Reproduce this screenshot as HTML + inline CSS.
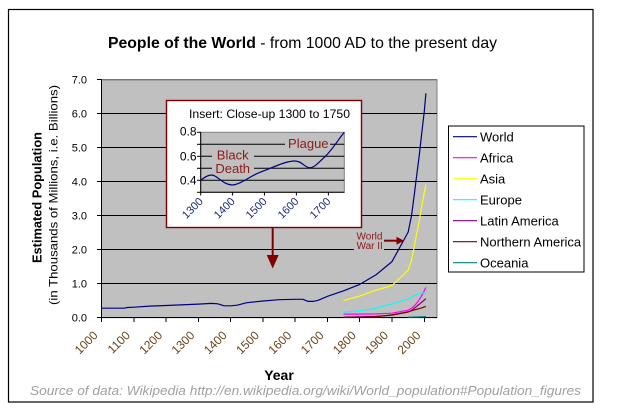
<!DOCTYPE html>
<html>
<head>
<meta charset="utf-8">
<style>
  html,body{margin:0;padding:0;background:#fff;}
  svg{display:block;}
  text{font-family:"Liberation Sans",Arial,sans-serif;}
</style>
</head>
<body>
<svg width="620" height="412" viewBox="0 0 620 412" xmlns="http://www.w3.org/2000/svg">
  <rect x="0" y="0" width="620" height="412" fill="#fff"/>
  <!-- outer frame -->
  <rect x="8.5" y="9.5" width="584.5" height="392.5" fill="#fff" stroke="#000" stroke-width="1.2"/>

  <!-- title -->
  <text x="108" y="48" font-size="15.7" fill="#000" textLength="389" lengthAdjust="spacingAndGlyphs"><tspan font-weight="bold">People of the World</tspan> - from 1000 AD to the present day</text>

  <!-- plot area -->
  <rect x="101.5" y="79.7" width="335.5" height="238" fill="#C0C0C0" stroke="#808080" stroke-width="1"/>
  <g stroke="#000" stroke-width="1" shape-rendering="crispEdges">
    <line x1="101.5" y1="283.7" x2="437" y2="283.7"/>
    <line x1="101.5" y1="249.7" x2="437" y2="249.7"/>
    <line x1="101.5" y1="215.7" x2="437" y2="215.7"/>
    <line x1="101.5" y1="181.7" x2="437" y2="181.7"/>
    <line x1="101.5" y1="147.7" x2="437" y2="147.7"/>
    <line x1="101.5" y1="113.7" x2="437" y2="113.7"/>
  </g>
  <line x1="101.5" y1="79.7" x2="437" y2="79.7" stroke="#606060" stroke-width="1"/>

  <!-- axes -->
  <g stroke="#000" stroke-width="1" shape-rendering="crispEdges">
    <line x1="101.5" y1="79.7" x2="101.5" y2="317.7"/>
    <line x1="101.5" y1="317.7" x2="437" y2="317.7"/>
    <line x1="97" y1="79.7" x2="101.5" y2="79.7"/>
    <line x1="97" y1="113.7" x2="101.5" y2="113.7"/>
    <line x1="97" y1="147.7" x2="101.5" y2="147.7"/>
    <line x1="97" y1="181.7" x2="101.5" y2="181.7"/>
    <line x1="97" y1="215.7" x2="101.5" y2="215.7"/>
    <line x1="97" y1="249.7" x2="101.5" y2="249.7"/>
    <line x1="97" y1="283.7" x2="101.5" y2="283.7"/>
    <line x1="97" y1="317.7" x2="101.5" y2="317.7"/>
    <line x1="101.5" y1="317.7" x2="101.5" y2="322"/>
    <line x1="133.8" y1="317.7" x2="133.8" y2="322"/>
    <line x1="166.1" y1="317.7" x2="166.1" y2="322"/>
    <line x1="198.3" y1="317.7" x2="198.3" y2="322"/>
    <line x1="230.6" y1="317.7" x2="230.6" y2="322"/>
    <line x1="262.9" y1="317.7" x2="262.9" y2="322"/>
    <line x1="295.2" y1="317.7" x2="295.2" y2="322"/>
    <line x1="327.5" y1="317.7" x2="327.5" y2="322"/>
    <line x1="359.7" y1="317.7" x2="359.7" y2="322"/>
    <line x1="392.0" y1="317.7" x2="392.0" y2="322"/>
    <line x1="424.3" y1="317.7" x2="424.3" y2="322"/>
  </g>

  <!-- y tick labels -->
  <g font-size="11" text-anchor="end" fill="#000">
    <text x="87" y="83.7">7.0</text>
    <text x="87" y="117.7">6.0</text>
    <text x="87" y="151.7">5.0</text>
    <text x="87" y="185.7">4.0</text>
    <text x="87" y="219.7">3.0</text>
    <text x="87" y="253.7">2.0</text>
    <text x="87" y="287.7">1.0</text>
    <text x="87" y="321.7">0.0</text>
  </g>

  <!-- x tick labels -->
  <g font-size="12" text-anchor="end" fill="#6a4418">
    <text x="98.5" y="336" transform="rotate(-45 98.5 336)">1000</text>
    <text x="130.8" y="336" transform="rotate(-45 130.8 336)">1100</text>
    <text x="163.1" y="336" transform="rotate(-45 163.1 336)">1200</text>
    <text x="195.3" y="336" transform="rotate(-45 195.3 336)">1300</text>
    <text x="227.6" y="336" transform="rotate(-45 227.6 336)">1400</text>
    <text x="259.9" y="336" transform="rotate(-45 259.9 336)">1500</text>
    <text x="292.2" y="336" transform="rotate(-45 292.2 336)">1600</text>
    <text x="324.5" y="336" transform="rotate(-45 324.5 336)">1700</text>
    <text x="356.7" y="336" transform="rotate(-45 356.7 336)">1800</text>
    <text x="389.0" y="336" transform="rotate(-45 389.0 336)">1900</text>
    <text x="421.3" y="336" transform="rotate(-45 421.3 336)">2000</text>
  </g>

  <!-- axis titles -->
  <text x="279" y="380" font-size="14" font-weight="bold" text-anchor="middle" fill="#000">Year</text>
  <text x="41.5" y="197.5" font-size="13" font-weight="bold" text-anchor="middle" fill="#000" transform="rotate(-90 41.5 197.5)" textLength="131" lengthAdjust="spacingAndGlyphs">Estimated Population</text>
  <text x="57.3" y="195" font-size="12" text-anchor="middle" fill="#000" transform="rotate(-90 57.3 195)" textLength="220" lengthAdjust="spacingAndGlyphs">(in Thousands of Millions, i.e. Billions)</text>

  <!-- series -->
  <g fill="none" stroke-width="1.2" stroke-linejoin="round">
    <!-- World -->
    <polyline stroke="#000080" points="101.5,308.2 124.1,308.2 127.3,307.5 133.8,307.2 149.9,306.1 166.1,305.5 198.3,304.1 211.3,303.4 217.7,303.8 224.2,305.8 230.6,305.8 237.1,305.2 246.8,302.7 262.9,301.0 279.0,299.7 295.2,299.3 303,299.3 308.1,301.4 313,301.4 317.8,300.4 327.5,296.3 343.6,290.8 359.7,284.4 375.9,274.9 392.0,261.6 408.2,232.0 409.8,223.9 411.4,216.4 413.0,204.5 414.6,192.2 416.2,179.3 417.8,166.9 419.5,153.5 421.1,138.8 422.7,124.9 424.3,111.3 425.9,93.3"/>
    <!-- Africa -->
    <polyline stroke="#FF00FF" points="343.6,314.1 359.7,314.1 375.9,313.9 392.0,313.2 408.2,310.2 409.8,309.3 411.4,308.3 413.0,307.0 414.6,305.6 416.2,303.8 417.8,301.7 419.5,299.3 421.1,296.6 422.7,293.7 424.3,290.6 425.9,287.5"/>
    <!-- Asia -->
    <polyline stroke="#FFFF00" points="343.6,300.6 359.7,296.1 375.9,290.2 392.0,285.5 408.2,270.2 409.8,265.3 411.4,260.8 413.0,253.1 414.6,244.8 416.2,236.2 417.8,228.2 419.5,219.5 421.1,210.0 422.7,201.1 424.3,192.6 425.9,184.5"/>
    <!-- Europe -->
    <polyline stroke="#00FFFF" points="343.6,312.2 359.7,310.8 375.9,308.3 392.0,303.8 408.2,299.1 409.8,298.2 411.4,297.3 413.0,296.1 414.6,295.4 416.2,294.8 417.8,294.2 419.5,293.7 421.1,293.2 422.7,293.0 424.3,293.0 425.9,293.1"/>
    <!-- Latin America -->
    <polyline stroke="#800080" points="343.6,317.2 359.7,316.9 375.9,316.4 392.0,315.2 408.2,312.0 409.8,311.2 411.4,310.6 413.0,309.2 414.6,308.0 416.2,306.8 417.8,305.4 419.5,304.1 421.1,302.7 422.7,301.4 424.3,300.0 425.9,298.7"/>
    <!-- Northern America -->
    <polyline stroke="#800000" points="343.6,317.3 359.7,317.2 375.9,316.8 392.0,314.9 408.2,311.9 409.8,311.3 411.4,310.8 413.0,310.3 414.6,309.8 416.2,309.4 417.8,309.0 419.5,308.6 421.1,308.1 422.7,307.5 424.3,307.0 425.9,306.4"/>
    <!-- Oceania -->
    <polyline stroke="#008080" points="408.2,317.2 416.2,317.0 425.9,316.6"/>
  </g>

  <!-- WWII annotation -->
  <rect x="354" y="229" width="30" height="22.5" fill="#C0C0C0"/>
  <g font-size="10" fill="#8B1A1A">
    <text x="356.5" y="239.5">World</text>
    <text x="356.5" y="249.2">War II</text>
  </g>
  <line x1="384" y1="240.7" x2="398" y2="240.7" stroke="#800000" stroke-width="2"/>
  <polygon points="396.5,236.7 396.5,244.7 404,240.7" fill="#800000"/>

  <!-- Inset -->
  <rect x="166.5" y="100.5" width="195" height="127" fill="#fff" stroke="#800000" stroke-width="1.4"/>
  <text x="189" y="118" font-size="12" fill="#000" textLength="161" lengthAdjust="spacingAndGlyphs">Insert:  Close-up 1300 to 1750</text>
  <rect x="200.7" y="132.3" width="143.6" height="60" fill="#C0C0C0" stroke="#808080" stroke-width="1"/>
  <g stroke="#000" stroke-width="1">
    <line x1="200.7" y1="144.3" x2="344.3" y2="144.3"/>
    <line x1="200.7" y1="156.3" x2="344.3" y2="156.3"/>
    <line x1="200.7" y1="168.3" x2="344.3" y2="168.3"/>
    <line x1="200.7" y1="180.3" x2="344.3" y2="180.3"/>
    <line x1="200.7" y1="132.3" x2="200.7" y2="192.3"/>
    <line x1="200.7" y1="192.3" x2="344.3" y2="192.3"/>
    <line x1="197" y1="132.3" x2="200.7" y2="132.3"/>
    <line x1="197" y1="144.3" x2="200.7" y2="144.3"/>
    <line x1="197" y1="156.3" x2="200.7" y2="156.3"/>
    <line x1="197" y1="168.3" x2="200.7" y2="168.3"/>
    <line x1="197" y1="180.3" x2="200.7" y2="180.3"/>
    <line x1="197" y1="192.3" x2="200.7" y2="192.3"/>
    <line x1="200.7" y1="192.3" x2="200.7" y2="195.5"/>
    <line x1="232.6" y1="192.3" x2="232.6" y2="195.5"/>
    <line x1="264.5" y1="192.3" x2="264.5" y2="195.5"/>
    <line x1="296.4" y1="192.3" x2="296.4" y2="195.5"/>
    <line x1="328.4" y1="192.3" x2="328.4" y2="195.5"/>
  </g>
  <!-- inset annotations -->
  <rect x="212" y="147" width="42" height="28.5" fill="#C0C0C0"/>
  <rect x="285" y="136.5" width="45" height="14" fill="#C0C0C0"/>
  <g font-size="13" fill="#8B1A1A" text-anchor="middle">
    <text x="232.7" y="159.5">Black</text>
    <text x="232.7" y="173.2">Death</text>
    <text x="308.3" y="148">Plague</text>
  </g>
  <path d="M200.7,180.3 C205,177 208,175 211.7,175 C217,175 222,184 231.7,185 C240,185 250,176 260,172.3 C272,168 285,161 295,161 C302,161 305,168 310,167.7 C315,167.5 320,161 325,156.7 C332,150 338,140 344.3,132.3" fill="none" stroke="#000080" stroke-width="1.2"/>
  <g font-size="12" text-anchor="end" fill="#000">
    <text x="196.5" y="135.5">0.8</text>
    <text x="196.5" y="160.5">0.6</text>
    <text x="196.5" y="184.5">0.4</text>
  </g>
  <g font-size="11" text-anchor="end" fill="#1c2a78">
    <text x="203.7" y="202" transform="rotate(-45 203.7 202)">1300</text>
    <text x="235.6" y="202" transform="rotate(-45 235.6 202)">1400</text>
    <text x="267.5" y="202" transform="rotate(-45 267.5 202)">1500</text>
    <text x="299.4" y="202" transform="rotate(-45 299.4 202)">1600</text>
    <text x="331.4" y="202" transform="rotate(-45 331.4 202)">1700</text>
  </g>

  <!-- big arrow from inset -->
  <line x1="272.7" y1="228" x2="272.7" y2="257" stroke="#800000" stroke-width="2"/>
  <polygon points="266.7,255 278.7,255 272.7,268.5" fill="#800000"/>

  <!-- legend -->
  <rect x="448.5" y="126" width="135.5" height="146" fill="#fff" stroke="#000" stroke-width="1"/>
  <g stroke-width="1.2">
    <line x1="453" y1="136.7" x2="477" y2="136.7" stroke="#000080"/>
    <line x1="453" y1="157.7" x2="477" y2="157.7" stroke="#FF00FF"/>
    <line x1="453" y1="178.7" x2="477" y2="178.7" stroke="#FFFF00"/>
    <line x1="453" y1="199.7" x2="477" y2="199.7" stroke="#00FFFF"/>
    <line x1="453" y1="220.7" x2="477" y2="220.7" stroke="#800080"/>
    <line x1="453" y1="241.7" x2="477" y2="241.7" stroke="#800000"/>
    <line x1="453" y1="262.7" x2="477" y2="262.7" stroke="#008080"/>
  </g>
  <g font-size="13" fill="#000">
    <text x="480" y="141.3">World</text>
    <text x="480" y="162.3">Africa</text>
    <text x="480" y="183.3">Asia</text>
    <text x="480" y="204.3">Europe</text>
    <text x="480" y="225.3">Latin America</text>
    <text x="480" y="246.3">Northern America</text>
    <text x="480" y="267.3">Oceania</text>
  </g>

  <!-- source -->
  <text x="30" y="395" font-size="13" font-style="italic" fill="#A0A0A0" textLength="551" lengthAdjust="spacingAndGlyphs">Source of data: Wikipedia  http://en.wikipedia.org/wiki/World_population#Population_figures</text>
</svg>
</body>
</html>
